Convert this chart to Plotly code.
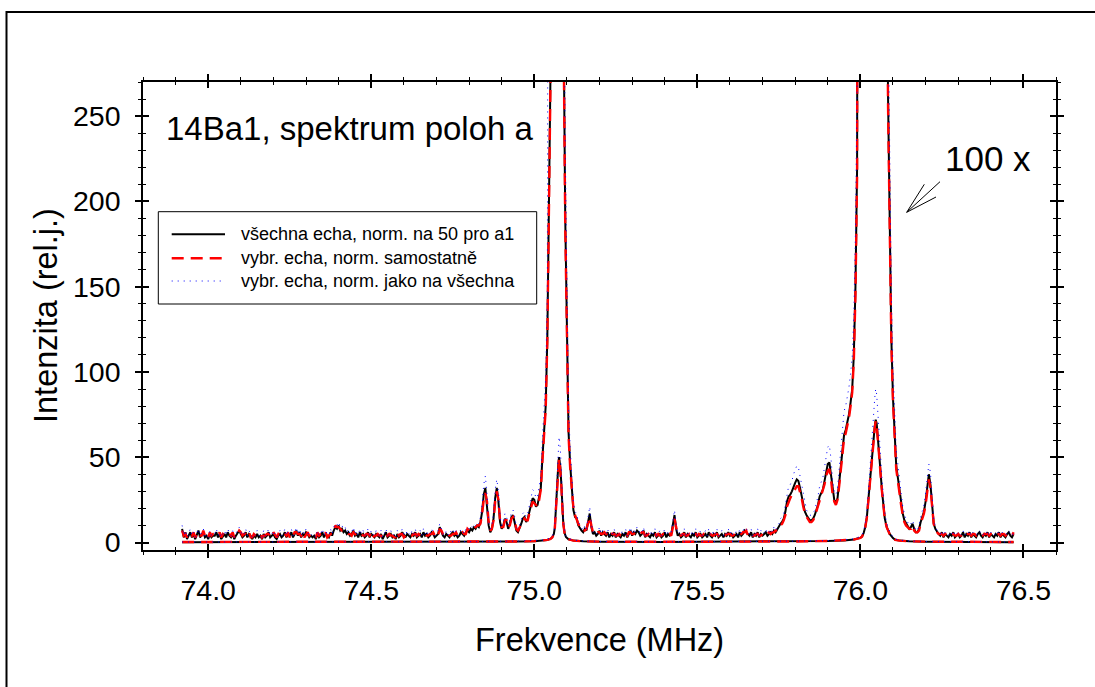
import numpy as np
import plotly.graph_objects as go

# ---------------- data ----------------
FREQ_START = 73.92      # MHz, first sample of the magnified spectra
FREQ_STEP = 0.005       # MHz, sampling step

# "všechna echa, norm. na 50 pro a1"  (100x magnified spectrum)
all_echo_100x = [
    8,3,6,2,4,6,3,5,2,4,7,3,5,6,3,4,2,5,3,4,
    4,6,3,5,2,4,5,3,6,4,3,5,2,4,6,7,5,3,4,6,
    3,5,4,2,4,3,5,3,4,2,5,3,4,6,3,4,5,3,2,4,
    5,3,4,6,3,5,4,6,3,5,7,4,6,3,5,4,6,5,3,4,
    3,4,2,5,3,4,6,3,5,4,3,6,4,7,9,8,10,7,8,6,
    7,5,6,4,5,7,4,5,3,6,4,5,3,4,6,3,5,4,3,5,
    4,3,5,2,4,6,3,4,5,3,4,2,5,3,4,6,4,3,5,4,
    3,5,4,6,3,4,5,3,6,4,5,3,4,6,5,3,4,5,9,6,
    4,3,5,4,3,5,6,4,5,3,4,6,5,4,6,7,6,8,7,9,
    8,10,9,12,18,28,32,22,10,6,8,14,26,32,24,12,8,10,14,12,
    8,11,15,16,12,7,6,8,11,14,15,12,14,18,22,26,25,21,22,27,
    32,50,65,80,120,190,280,450,900,2000,3000,2600,1300,520,300,190,110,65,46,30,
    19,15,14,10,8,7,6,8,7,12,17,9,5,6,4,5,7,4,6,5,
    4,6,3,5,4,6,3,5,4,3,5,4,6,3,5,7,4,6,5,7,
    6,4,5,7,3,5,4,3,5,4,6,3,4,5,3,4,6,3,5,4,
    5,10,16,8,4,5,3,4,6,3,5,4,3,5,4,6,3,4,5,3,
    4,5,3,6,4,3,5,4,6,3,4,5,3,5,4,6,4,5,3,4,
    5,3,6,4,5,7,6,5,4,6,3,5,4,6,3,5,4,5,6,4,
    5,6,5,7,6,8,9,11,12,14,18,24,27,28,30,33,35,37,36,32,
    27,22,18,16,14,13,13,14,16,19,22,27,29,31,36,42,46,47,40,30,
    25,23,26,35,45,55,63,66,70,75,82,90,110,150,220,290,400,600,900,1400,
    2200,3200,4500,6000,7000,7200,6500,5000,3500,2200,1200,650,380,260,180,120,85,60,45,38,
    30,24,17,13,11,10,8,9,11,8,6,6,8,12,15,18,24,33,40,34,
    20,11,8,6,5,4,6,3,5,4,3,5,4,6,3,4,5,3,4,6,
    3,5,4,6,3,5,4,3,5,6,4,3,5,4,6,3,5,4,3,5,
    4,6,3,5,4,3,5,6,4,3,5,
]

# "vybr. echa, norm. samostatně"  (100x magnified spectrum)
sel_echo_self_100x = [
    7,4,5,3,5,5,4,6,3,5,6,4,4,7,4,5,3,6,4,5,
    5,5,4,6,3,5,4,4,5,5,4,6,3,5,5,7,6,4,5,5,
    4,6,3,3,5,4,4,4,5,3,4,4,5,5,4,3,6,4,3,5,
    4,4,5,5,4,6,3,5,4,6,6,5,5,4,6,3,5,6,4,5,
    4,3,3,6,4,5,5,4,6,3,4,5,5,6,10,9,9,8,7,7,
    6,6,5,5,4,6,5,4,4,5,5,4,4,5,5,4,6,3,4,4,
    5,4,4,3,5,5,4,5,4,4,3,3,6,4,5,5,3,4,4,5,
    4,4,5,5,4,5,4,4,5,5,4,4,5,5,6,4,5,4,8,7,
    5,4,4,5,4,4,5,5,6,4,5,5,6,5,5,8,7,7,8,8,
    9,10,10,11,17,25,29,24,12,7,8,13,24,30,25,13,9,9,13,13,
    9,10,14,15,13,8,7,9,10,13,14,13,13,17,20,24,23,22,21,25,
    31,48,63,78,118,185,275,440,880,1950,2950,2550,1280,510,295,185,108,63,44,29,
    20,16,13,11,9,7,7,7,8,11,15,10,6,5,5,6,6,5,5,6,
    5,5,4,6,5,5,4,4,5,4,4,5,5,4,6,6,5,5,6,6,
    5,5,6,6,4,4,5,4,4,5,5,4,5,4,4,5,5,4,4,5,
    4,9,14,9,5,4,4,5,5,4,4,5,4,4,5,5,4,5,4,4,
    5,4,4,5,5,4,4,5,5,4,5,4,4,4,5,5,5,4,4,5,
    4,4,5,5,6,6,7,4,5,5,4,4,5,5,4,4,5,4,5,5,
    6,5,6,6,7,7,8,10,11,13,16,21,24,26,28,30,32,33,33,30,
    26,21,17,15,13,12,12,13,15,18,21,25,27,30,34,39,42,43,37,28,
    24,22,25,33,43,53,61,64,68,73,80,88,107,146,215,285,395,590,890,1380,
    2180,3150,4450,5950,6950,7150,6450,4950,3450,2150,1180,640,375,255,176,117,83,58,43,36,
    28,22,16,12,10,9,8,8,10,7,6,6,7,11,14,17,22,30,37,32,
    19,11,7,6,5,5,5,4,5,5,4,5,5,5,4,4,5,4,4,5,
    4,5,5,5,4,5,5,4,5,5,4,4,5,5,5,4,5,5,4,5,
    5,5,4,5,5,4,5,5,5,4,6,
]

# "vybr. echa, norm. jako na všechna"  (100x magnified spectrum)
sel_echo_same_100x = [
    10,4,7,3,5,8,4,6,3,5,8,4,6,8,4,5,3,7,4,5,
    5,8,4,6,3,5,7,4,8,5,4,7,3,5,8,9,7,4,5,8,
    4,7,5,3,5,4,7,4,5,3,7,4,5,8,4,5,7,4,3,5,
    7,4,5,8,4,7,5,8,4,6,9,5,8,4,7,5,8,6,4,5,
    4,5,3,7,4,5,8,4,7,5,4,8,5,9,11,10,12,9,10,8,
    9,6,8,5,6,9,5,7,4,8,5,7,4,5,8,4,7,5,4,7,
    5,4,7,3,5,8,4,5,7,4,5,3,7,4,5,8,5,4,7,5,
    4,7,5,8,4,5,7,4,8,5,7,4,5,8,6,4,5,7,11,8,
    5,4,7,5,4,7,8,5,7,4,5,8,7,5,8,9,8,10,9,11,
    10,12,11,15,22,34,39,28,12,8,10,17,31,37,30,15,10,12,17,15,
    10,13,18,19,15,9,8,10,13,17,18,15,17,22,27,31,30,26,27,33,
    39,61,79,97,146,230,340,545,1090,2420,3630,3150,1570,630,363,230,133,79,56,36,
    23,18,17,12,10,8,7,10,8,15,21,11,6,7,5,6,9,5,7,6,
    5,8,4,6,5,8,4,6,5,4,7,5,8,4,6,9,5,8,6,9,
    8,5,6,9,4,6,5,4,7,5,8,4,5,7,4,5,8,4,6,5,
    6,12,19,10,5,6,4,5,8,4,6,5,4,7,5,8,4,5,7,4,
    5,7,4,8,5,4,7,5,8,4,5,7,4,6,5,8,5,7,4,5,
    7,4,8,5,7,9,8,7,5,8,4,6,5,8,4,7,5,6,8,5,
    6,8,6,9,7,10,11,14,15,17,22,29,33,34,36,40,42,45,44,39,
    33,27,22,19,17,16,16,17,19,23,27,33,35,38,44,51,56,57,49,36,
    30,28,32,43,55,67,77,80,85,91,99,109,133,182,266,351,484,726,1089,1694,
    2662,3872,5445,7260,8470,8712,7865,6050,4235,2662,1452,787,460,315,218,145,103,73,54,46,
    36,29,21,16,13,12,10,11,13,10,7,7,10,15,18,22,29,40,46,41,
    24,13,10,7,6,5,7,4,6,5,4,6,5,7,4,5,6,4,5,7,
    4,6,5,7,4,6,5,4,6,7,5,4,6,5,7,4,6,5,4,6,
    5,7,4,6,5,4,6,7,5,4,6,
]

# unmagnified (1x) spectra
freq_1x = [73.92, 74.2, 74.5, 74.8, 74.95, 75.0, 75.03, 75.04, 75.05, 75.055,
           75.06, 75.063, 75.066, 75.069, 75.072, 75.074, 75.076, 75.078, 75.080, 75.083,
           75.086, 75.089, 75.093, 75.097, 75.105, 75.12, 75.15, 75.2, 75.4, 75.6,
           75.8, 75.9, 75.95, 75.98, 76.0, 76.005, 76.01, 76.015, 76.02, 76.025,
           76.03, 76.035, 76.04, 76.044, 76.047, 76.05, 76.055, 76.06, 76.066, 76.07,
           76.075, 76.081, 76.09, 76.1, 76.107, 76.12, 76.15, 76.2, 76.3, 76.47]
all_echo_1x = [0.2, 0.2, 0.3, 0.4, 0.6, 0.8, 1.2, 1.5, 2.2, 3.0,
               5.0, 8.5, 19, 31, 42, 47, 50, 48, 44, 34,
               21, 11, 5.5, 3.2, 1.9, 1.1, 0.7, 0.5, 0.3, 0.4,
               0.6, 0.9, 1.2, 1.8, 2.8, 3.5, 5.5, 9, 15, 25,
               35, 46, 59, 68, 72, 70, 60, 46, 31, 22,
               14, 9, 5, 2.6, 1.6, 1.1, 0.7, 0.5, 0.3, 0.2]
sel_echo_self_1x = [0.3, 0.3, 0.3, 0.5, 0.6, 0.8, 1.2, 1.5, 2.1, 2.9,
                    4.8, 8.2, 18.5, 30, 41, 46, 49, 47, 43, 33,
                    20.5, 10.8, 5.4, 3.1, 1.9, 1.1, 0.7, 0.5, 0.4, 0.4,
                    0.6, 0.9, 1.2, 1.7, 2.7, 3.4, 5.4, 8.8, 14.7, 24.5,
                    34.5, 45, 58, 67, 71, 69, 59, 45, 30.5, 21.5,
                    13.7, 8.8, 4.9, 2.5, 1.6, 1.1, 0.7, 0.5, 0.3, 0.3]
sel_echo_same_1x = [0.3, 0.3, 0.4, 0.5, 0.8, 1.0, 1.5, 1.9, 2.7, 3.7,
                    6.2, 10.5, 23.5, 38.5, 52, 58, 62, 59, 54.5, 42,
                    26, 13.6, 6.8, 4.0, 2.4, 1.4, 0.9, 0.6, 0.4, 0.5,
                    0.8, 1.1, 1.5, 2.2, 3.5, 4.3, 6.8, 11.2, 18.6, 31,
                    43.5, 57, 73, 84.5, 90, 87, 74.5, 57, 38.5, 27.3,
                    17.4, 11.2, 6.2, 3.2, 2.0, 1.4, 0.9, 0.6, 0.4, 0.3]

series_names = ["všechna echa, norm. na 50 pro a1",
                "vybr. echa, norm. samostatně",
                "vybr. echa, norm. jako na všechna"]

x_tick_vals = [74.0, 74.5, 75.0, 75.5, 76.0, 76.5]
y_tick_vals = [0, 50, 100, 150, 200, 250]

for arr in (sel_echo_self_100x, sel_echo_same_100x):
    if len(arr) != len(all_echo_100x):
        raise ValueError("length mismatch %d %d" % (len(arr), len(all_echo_100x)))
for arr in (all_echo_1x, sel_echo_self_1x, sel_echo_same_1x):
    if len(arr) != len(freq_1x):
        raise ValueError("1x length mismatch %d %d" % (len(arr), len(freq_1x)))

freq_100x = np.round(FREQ_START + FREQ_STEP * np.arange(len(all_echo_100x)), 3)

# ---------------- figure ----------------
FONT = "Liberation Sans, Arial, sans-serif"
X_RANGE = [73.8, 76.6]
Y_RANGE = [-4.4, 270]
W, H = 1095, 687
ML, MR, MT, MB = 143, 39, 82, 137
PW, PH = W - ML - MR, H - MT - MB


def px(x):   # pixel column -> paper x
    return (x - ML) / PW


def py(y):   # pixel row -> paper y
    return (H - MB - y) / PH


fig = go.Figure()

styles = [
    dict(color="black", width=2.0, dash="solid"),
    dict(color="#ff0000", width=2.4, dash="12px,7px"),
    dict(color="#0000ff", width=1.0, dash="1px,5px"),
]
data_100x = [all_echo_100x, sel_echo_self_100x, sel_echo_same_100x]
data_1x = [all_echo_1x, sel_echo_self_1x, sel_echo_same_1x]

for i in range(3):
    axes = dict(xaxis="x2", yaxis="y2") if i == 2 else dict(xaxis="x", yaxis="y")
    fig.add_trace(go.Scatter(x=freq_100x, y=data_100x[i], mode="lines", name=series_names[i],
                             line=styles[i], legendgroup=str(i), showlegend=False,
                             hoverinfo="skip", **axes))
    fig.add_trace(go.Scatter(x=freq_1x, y=data_1x[i], mode="lines", name=series_names[i],
                             line=styles[i], legendgroup=str(i), showlegend=False,
                             hoverinfo="skip", **axes))

tickfont = dict(family=FONT, size=28.5, color="black")
common_x = dict(range=X_RANGE, showgrid=False, zeroline=False, showline=True,
                linecolor="black", linewidth=1.5, mirror="ticks",
                tickvals=x_tick_vals, tickformat=".1f", tickcolor="black", tickwidth=1.5,
                ticklen=6)
common_y = dict(range=Y_RANGE, showgrid=False, zeroline=False, showline=True,
                linecolor="black", linewidth=1.5, mirror="ticks",
                tickvals=y_tick_vals, tickcolor="black", tickwidth=1.5, ticklen=6)

fig.update_layout(
    width=W, height=H,
    margin=dict(l=ML, r=MR, t=MT, b=MB, autoexpand=False),
    paper_bgcolor="white", plot_bgcolor="white",
    font=dict(family=FONT, color="black"),
    xaxis=dict(**common_x, ticks="outside", tickfont=tickfont, ticklabelstandoff=8,
               minor=dict(dtick=0.1, tick0=73.8, ticks="outside", ticklen=3.5,
                          tickwidth=1.2, tickcolor="black")),
    yaxis=dict(**common_y, ticks="outside", tickfont=tickfont, ticklabelstandoff=9,
               minor=dict(dtick=10, tick0=0, ticks="outside", ticklen=3.5,
                          tickwidth=1.2, tickcolor="black")),
    xaxis2=dict(**common_x, ticks="inside", overlaying="x", anchor="y2", showticklabels=False,
                minor=dict(dtick=0.1, tick0=73.8, ticks="inside", ticklen=3.5,
                           tickwidth=1.2, tickcolor="black")),
    yaxis2=dict(**common_y, ticks="inside", overlaying="y", anchor="x2", showticklabels=False,
                minor=dict(dtick=10, tick0=0, ticks="inside", ticklen=3.5,
                           tickwidth=1.2, tickcolor="black")),
    showlegend=False,
)

# axis titles and labels
fig.add_annotation(text="Frekvence (MHz)", xref="paper", yref="paper", x=0.5, y=py(640),
                   xanchor="center", yanchor="middle", showarrow=False,
                   font=dict(family=FONT, size=32.5, color="black"))
fig.add_annotation(text="Intenzita (rel.j.)", xref="paper", yref="paper", x=px(46), y=py(316),
                   xanchor="center", yanchor="middle", textangle=-90, showarrow=False,
                   font=dict(family=FONT, size=32.5, color="black"))
fig.add_annotation(text="14Ba1, spektrum poloh a", xref="paper", yref="paper",
                   x=px(164), y=py(128), xanchor="left", yanchor="middle", showarrow=False,
                   font=dict(family=FONT, size=33, color="black"))
fig.add_annotation(text="100 x", xref="paper", yref="paper",
                   x=px(943), y=py(158), xanchor="left", yanchor="middle", showarrow=False,
                   font=dict(family=FONT, size=35, color="black"))

# fan-shaped arrow pointing to the magnified curve
tip = (906.7, 212.3)
for end in [(940, 181.7), (924.3, 184.3), (936, 197)]:
    fig.add_shape(type="line", xref="paper", yref="paper",
                  x0=px(tip[0]), y0=py(tip[1]), x1=px(end[0]), y1=py(end[1]),
                  line=dict(color="black", width=1))

# legend box (drawn as a framed key)
fig.add_shape(type="rect", xref="paper", yref="paper",
              x0=px(158.3), x1=px(536.7), y0=py(304), y1=py(211.7),
              line=dict(color="black", width=1), fillcolor="white", layer="above")
row_y = [234.3, 258.3, 281.0]
for i in range(3):
    fig.add_shape(type="line", xref="paper", yref="paper",
                  x0=px(171.7), x1=px(225), y0=py(row_y[i]), y1=py(row_y[i]),
                  line=styles[i], layer="above")
    fig.add_annotation(text=series_names[i], xref="paper", yref="paper",
                       x=px(238.5), y=py(row_y[i]), xanchor="left", yanchor="middle",
                       showarrow=False, font=dict(family=FONT, size=18, color="black"))

# outer frame of the picture
fig.add_shape(type="rect", xref="paper", yref="paper",
              x0=px(6.5), x1=px(1120), y0=py(720), y1=py(12),
              line=dict(color="black", width=2), fillcolor="rgba(0,0,0,0)")

fig.write_html("out.html",
               config={"displayModeBar": False},
               post_script="document.body.style.margin='0px';"
                           "document.body.style.overflow='hidden';")
